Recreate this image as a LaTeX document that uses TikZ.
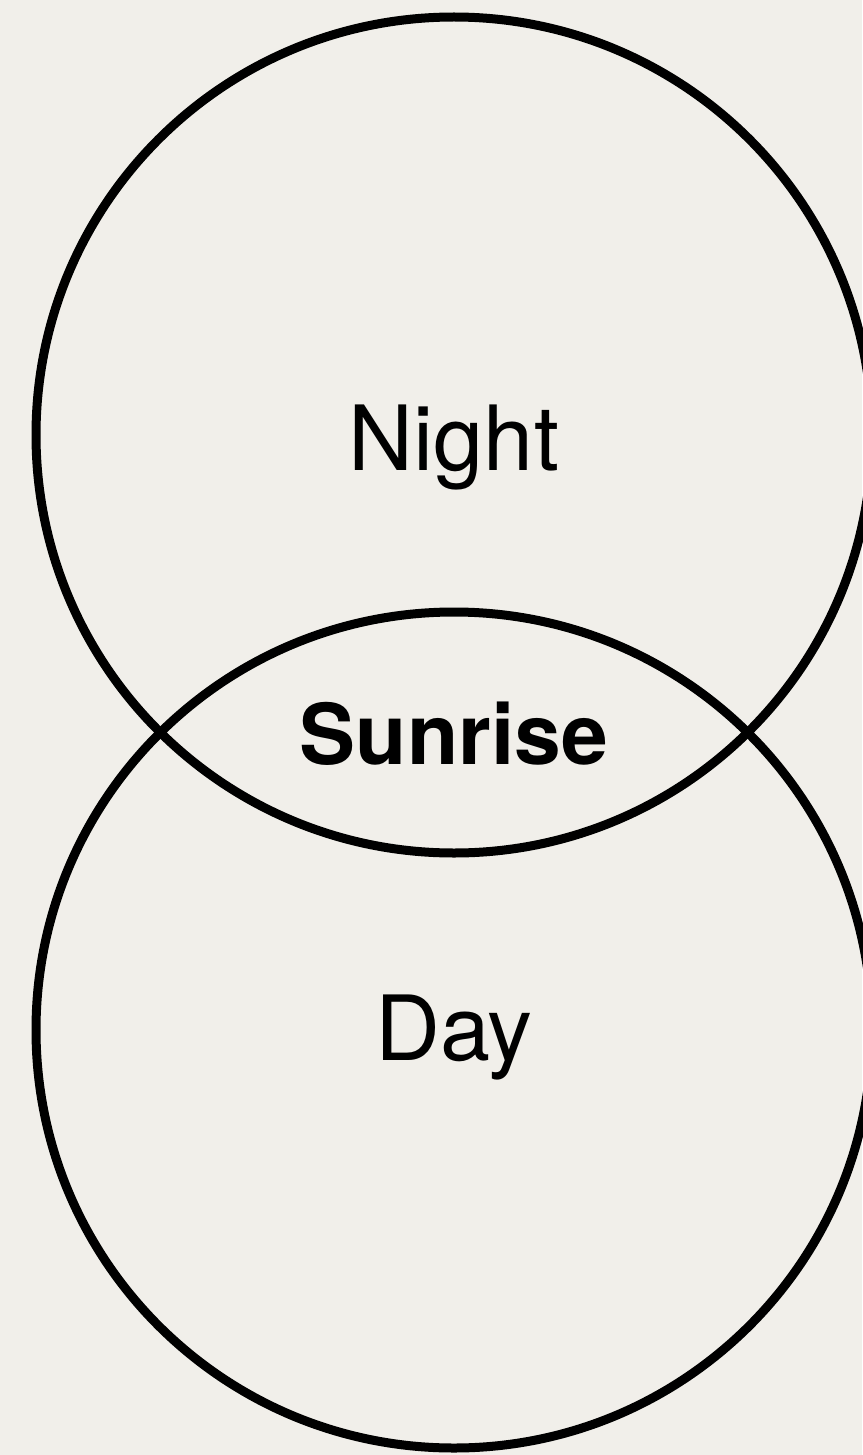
\documentclass[tikz,border=0pt]{standalone}
\usepackage{fontspec}
\setmainfont{TeX Gyre Heros}
\usepackage{xcolor}
\definecolor{paper}{HTML}{F1EFEA}
\usetikzlibrary{positioning}

\begin{document}
\begin{tikzpicture}[
    x=0.5pt, y=-0.5pt,
    setline/.style={
        draw=black,
        line width=4.5pt
    },
    label/.style={
        anchor=base,
        inner sep=0pt,
        font=\fontsize{45}{50}\selectfont
    }
]

\fill[paper] (0,0) rectangle (862,1455);
\useasboundingbox (0,0) rectangle (862,1455);

\coordinate (ctop) at (454,435);
\coordinate (cbot) at (454,1030);

\draw[setline] (ctop) circle (418);
\draw[setline] (cbot) circle (418);

\node[label] (night) at (454,470) {Night};
\node[label, font=\fontsize{42}{46}\selectfont\bfseries] (sunrise) at (454,764) {Sunrise};
\node[label] (day) at (454,1060) {Day};

\end{tikzpicture}
\end{document}
